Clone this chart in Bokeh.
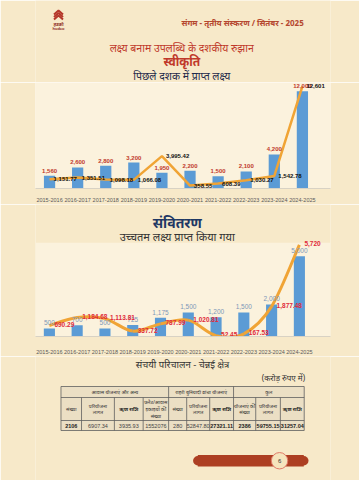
from bokeh.plotting import figure
from bokeh.layouts import column
from bokeh.models import Range1d, FixedTicker
from bokeh.core.properties import value
from bokeh.embed import file_html
from bokeh.resources import INLINE

# ---------------- data ----------------
years = ["2015-2016", "2016-2017", "2017-2018", "2018-2019", "2019-2020",
         "2020-2021", "2021-2022", "2022-2023", "2023-2024", "2024-2025"]
sanction_target = [1560, 2600, 2800, 3200, 1950, 2200, 1500, 2100, 4200, 12000]
sanction_achieved = [1151.77, 1351.51, 1098.18, 1066.08, 3995.42, 358.55, 608.39, 1030.27, 1542.78, 12601]
disb_target = [500, 700, 500, 725, 1175, 1500, 1200, 1500, 2000, 5000]
disb_achieved = [690.29, 1184.68, 1113.81, 337.72, 787.99, 1020.81, 52.45, 167.53, 1877.48, 5720]

group_headers = ["आवास योजनाएं और अन्य", "शहरी बुनियादी ढांचा योजनाएं", "कुल"]
col_headers = ["संख्या", "परियोजना\nलागत", "ऋण राशि", "फ्लैट/आवास\nइकाइयों की\nसंख्या", "संख्या",
               "परियोजना\nलागत", "ऋण राशि", "योजनाएं की\nसंख्या", "परियोजना\nलागत", "ऋण राशि"]
row_values = ["2106", "6907.34", "3935.93", "1552076", "280",
              "52847.80", "27321.11", "2386", "59755.15", "31257.04"]

# ---------------- style ----------------
PAGE = "#f7e9c9"
LIGHT = "#fbf2dd"
BLUE = "#5b9bd5"
ORANGE = "#f0a435"
RED = "#c0392b"
NAVY = "#1f2a4a"
DEV = value("Noto Sans")
NUM = value("Liberation Sans")
W = 359


def fmt(v):
    s = f"{v:,.2f}"
    return s[:-3] if s.endswith(".00") else s


def deco_fig(top, bottom):
    p = figure(width=W, height=bottom - top, x_range=Range1d(0, W),
               y_range=Range1d(bottom, top), output_backend="svg", toolbar_location=None,
               min_border=0)
    p.axis.visible = False
    p.grid.visible = False
    p.outline_line_color = None
    p.background_fill_color = PAGE
    p.border_fill_color = PAGE
    return p


def chart_fig(top, bottom, baseline, left, right, xmax, ymax, bg):
    p = figure(width=W, height=bottom - top, x_range=Range1d(-0.5, xmax),
               y_range=Range1d(0, ymax), output_backend="svg", toolbar_location=None,
               min_border_left=left, min_border_right=right, min_border_top=0,
               min_border_bottom=bottom - baseline)
    p.yaxis.visible = False
    p.grid.visible = False
    p.outline_line_color = None
    p.background_fill_color = bg
    p.border_fill_color = PAGE
    ax = p.xaxis[0]
    ax.ticker = FixedTicker(ticks=list(range(len(years))))
    ax.major_label_overrides = {i: y for i, y in enumerate(years)}
    ax.major_tick_line_color = None
    ax.minor_tick_line_color = None
    ax.axis_line_color = "#d8d2c4"
    ax.major_label_text_font = "Liberation Sans"
    ax.major_label_text_color = "#595959"
    return p


idx = list(range(len(years)))

# ---------------- header ----------------
h = deco_fig(0, 82)
for yy in [10.0, 12.5, 15.0]:
    h.line(x=[22.5, 28, 33.5], y=[yy + 4, yy, yy + 4], line_color="#b5372a", line_width=2)
h.text(x=[28], y=[23], text=["हडको"], text_font=DEV, text_font_size="4.5px",
       text_color="#8c2a1c", text_align="center", text_baseline="middle", text_font_style="bold")
h.text(x=[28], y=[28], text=["hudco"], text_font=NUM, text_font_size="4px",
       text_color="#8c2a1c", text_align="center", text_baseline="middle", text_font_style="bold")
h.text(x=[329], y=[21.5], text=["संगम - तृतीय संस्करण /  सितंबर - 2025"], text_font=DEV,
       text_font_size="8px", text_color="#b5472f", text_align="right", text_baseline="middle",
       text_font_style="bold")
h.text(x=[178], y=[47.5], text=["लक्ष्य बनाम उपलब्धि के दशकीय रुझान"], text_font=DEV,
       text_font_size="10.5px", text_color=RED, text_align="center", text_baseline="middle")
h.text(x=[178], y=[61], text=["स्वीकृति"], text_font=DEV, text_font_size="12px",
       text_color=RED, text_align="center", text_baseline="middle", text_font_style="bold")
h.text(x=[178], y=[75], text=["पिछले दशक में प्राप्त लक्ष्य"], text_font=DEV,
       text_font_size="10.5px", text_color=NAVY, text_align="center", text_baseline="middle")

# ---------------- chart 1 ----------------
c1 = chart_fig(82, 204, 191, 35, 29, 10.0, 109 * 120, LIGHT)
c1.xaxis.major_label_text_font_size = "5.5px"
c1.xaxis.major_label_standoff = 3
c1.vbar(x=idx, top=sanction_target, width=0.4, fill_color=BLUE, line_color=None)
c1.line(x=idx, y=sanction_achieved, line_color=ORANGE, line_width=2.5)
c1.text(x=idx, y=sanction_target, text=[f"{v:,}" for v in sanction_target], text_font=NUM,
        text_font_size="6px", text_color=RED, text_align="center", text_baseline="bottom",
        y_offset=-3, text_font_style="bold")
c1.text(x=idx, y=sanction_achieved, text=[fmt(v) for v in sanction_achieved], text_font=NUM,
        text_font_size="6px", text_color="#111111", text_align="left", text_baseline="middle",
        x_offset=4, text_font_style="bold")

# ---------------- chart 2 (with its titles above the plot area) ----------------
C2_TOP, C2_BASE, C2_LEFT, C2_RIGHT, C2_XMAX, C2_SCALE = 204, 339, 30, 19, 10.12, 61
c2 = chart_fig(C2_TOP, 356, C2_BASE, C2_LEFT, C2_RIGHT, C2_XMAX, (C2_BASE - C2_TOP) * C2_SCALE, PAGE)
px_per_unit = (W - C2_LEFT - C2_RIGHT) / (C2_XMAX + 0.5)


def c2y(ref_y):
    return (C2_BASE - ref_y) * C2_SCALE


def c2x(ref_x):
    return (ref_x - C2_LEFT) / px_per_unit - 0.5


c2.quad(left=[-0.5], right=[C2_XMAX], bottom=[0], top=[c2y(243)], fill_color=LIGHT, line_color=None)
c2.text(x=[c2x(179)], y=[c2y(222)], text=["संवितरण"], text_font=DEV, text_font_size="14px",
        text_color="#1f3864", text_align="center", text_baseline="middle", text_font_style="bold")
c2.text(x=[c2x(179)], y=[c2y(236.5)], text=["उच्चतम लक्ष्य प्राप्त किया गया"], text_font=DEV,
        text_font_size="11px", text_color="#333333", text_align="center", text_baseline="middle")
c2.xaxis.major_label_text_font_size = "5.5px"
c2.xaxis.major_label_standoff = 7
c2.vbar(x=idx, top=disb_target, width=0.4, fill_color=BLUE, line_color=None)
n = len(disb_achieved)
x0, y0, x1, y1, cx0, cy0, cx1, cy1 = [], [], [], [], [], [], [], []
for i in range(n - 1):
    yp = disb_achieved[max(i - 1, 0)]
    ya = disb_achieved[i]
    yb = disb_achieved[i + 1]
    yn = disb_achieved[min(i + 2, n - 1)]
    xp, xa, xb, xn = max(i - 1, 0), i, i + 1, min(i + 2, n - 1)
    x0.append(xa); y0.append(ya); x1.append(xb); y1.append(yb)
    cx0.append(xa + (xb - xp) / 6); cy0.append(ya + (yb - yp) / 6)
    cx1.append(xb - (xn - xa) / 6); cy1.append(yb - (yn - ya) / 6)
c2.bezier(x0=x0, y0=y0, x1=x1, y1=y1, cx0=cx0, cy0=cy0, cx1=cx1, cy1=cy1,
          line_color=ORANGE, line_width=3)
c2.text(x=idx, y=disb_target, text=[f"{v:,}" for v in disb_target], text_font=NUM,
        text_font_size="6.5px", text_color="#7d97b8", text_align="center", text_baseline="bottom",
        y_offset=-3)
c2.text(x=idx, y=disb_achieved, text=[fmt(v) for v in disb_achieved], text_font=NUM,
        text_font_size="6.5px", text_color="#e02b3a", text_align="left", text_baseline="middle",
        x_offset=5, y_offset=-1, text_font_style="bold")

# ---------------- bottom: table & footer ----------------
b = deco_fig(356, 480)
b.text(x=[179], y=[363.5], text=["संचयी परिचालन - चेन्नई क्षेत्र"], text_font=DEV,
       text_font_size="9.5px", text_color="#333333", text_align="center", text_baseline="middle")
b.text(x=[328], y=[376.5], text=["(करोड़ रुपए में)"], text_font=DEV, text_font_size="8px",
       text_color="#333333", text_align="right", text_baseline="middle")

edges = [31, 56, 96, 131, 162, 184, 212, 241, 268, 298, 327]
group_edges = [31, 162, 241, 327]
rows = [386, 397, 420, 430]
b.quad(left=[edges[0]], right=[edges[-1]], top=[rows[0]], bottom=[rows[-1]],
       fill_color="#ebdfc4", line_color=None)
b.segment(x0=[edges[0]] * len(rows), x1=[edges[-1]] * len(rows), y0=rows, y1=rows,
          line_color="#5f5f5f", line_width=0.8)
b.segment(x0=group_edges, x1=group_edges, y0=[rows[0]] * 4, y1=[rows[-1]] * 4,
          line_color="#5f5f5f", line_width=0.8)
inner = [e for e in edges if e not in group_edges]
b.segment(x0=inner, x1=inner, y0=[rows[1]] * len(inner), y1=[rows[-1]] * len(inner),
          line_color="#5f5f5f", line_width=0.8)
gx = [(group_edges[i] + group_edges[i + 1]) / 2 for i in range(3)]
b.text(x=gx, y=[(rows[0] + rows[1]) / 2] * 3, text=group_headers, text_font=DEV,
       text_font_size="5px", text_color="#333333", text_align="center", text_baseline="middle")
cx = [(edges[i] + edges[i + 1]) / 2 for i in range(len(edges) - 1)]
bold_h = [i for i, t in enumerate(col_headers) if t == "ऋण राशि"]
norm_h = [i for i in range(len(col_headers)) if i not in bold_h]
b.text(x=[cx[i] for i in norm_h], y=[(rows[1] + rows[2]) / 2] * len(norm_h),
       text=[col_headers[i] for i in norm_h], text_font=DEV, text_font_size="5px",
       text_color="#333333", text_align="center", text_baseline="middle", text_line_height=1.1)
b.text(x=[cx[i] for i in bold_h], y=[(rows[1] + rows[2]) / 2] * len(bold_h),
       text=[col_headers[i] for i in bold_h], text_font=DEV, text_font_size="5px",
       text_color="#222222", text_align="center", text_baseline="middle", text_font_style="bold")
bold_v = [0, 6, 7, 8, 9]
norm_v = [i for i in range(len(row_values)) if i not in bold_v]
b.text(x=[cx[i] for i in norm_v], y=[(rows[2] + rows[3]) / 2] * len(norm_v),
       text=[row_values[i] for i in norm_v], text_font=NUM, text_font_size="5.5px",
       text_color="#444444", text_align="center", text_baseline="middle")
b.text(x=[cx[i] for i in bold_v], y=[(rows[2] + rows[3]) / 2] * len(bold_v),
       text=[row_values[i] for i in bold_v], text_font=NUM, text_font_size="5.5px",
       text_color="#222222", text_align="center", text_baseline="middle", text_font_style="bold")

b.quad(left=[197.5], right=[326.5], top=[454.5], bottom=[466], fill_color="#ad3f22", line_color=None)
b.circle(x=[197.5, 326.5], y=[460.25, 460.25], radius=5.75, fill_color="#ad3f22", line_color=None)
b.circle(x=[297], y=[460.25], radius=10, fill_color="#f5e4bd", line_color="#e07a68", line_width=1)
b.text(x=[297], y=[460.5], text=["6"], text_font=NUM, text_font_size="6px",
       text_color="#333333", text_align="center", text_baseline="middle")

page = column(h, c1, c2, b, spacing=0)
open("out.html", "w").write(file_html(page, INLINE))
